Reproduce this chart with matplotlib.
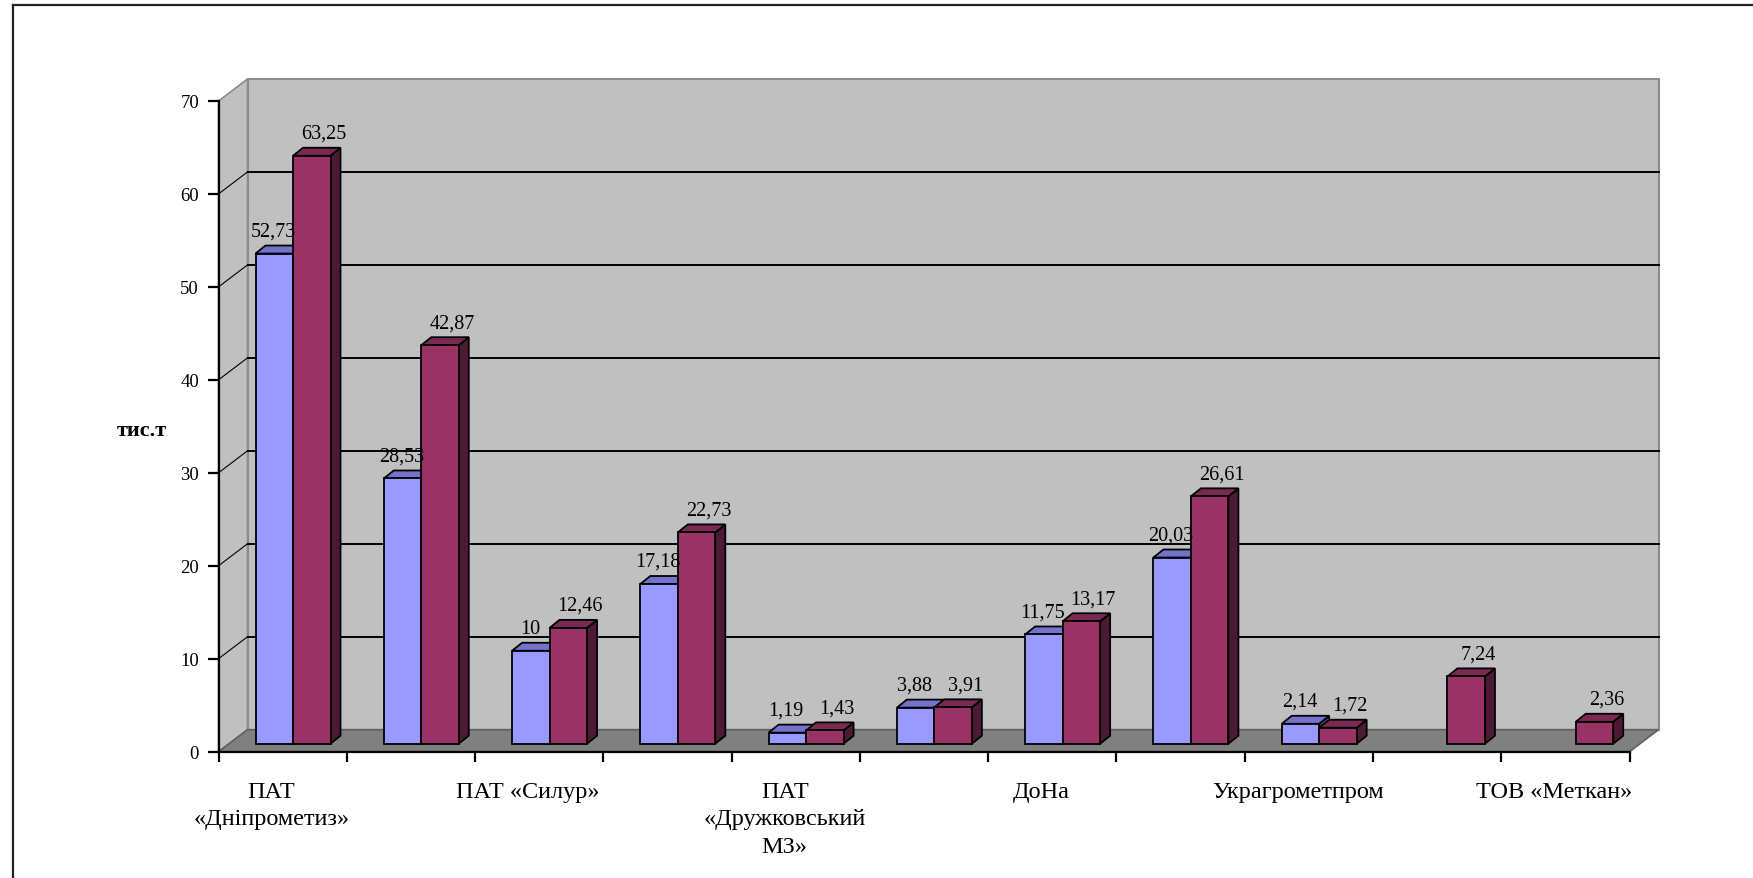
import numpy as np
import matplotlib
matplotlib.use('Agg')
import matplotlib.pyplot as plt
from matplotlib.patches import Polygon
from matplotlib.lines import Line2D

# ---------------- data ----------------
categories = ['ПАТ\n«Дніпрометиз»', '', 'ПАТ «Силур»', '', 'ПАТ\n«Дружковський\nМЗ»', '',
              'ДоНа', '', 'Украгрометпром', '', 'ТОВ «Меткан»']
series_a = [52.73, 28.53, 10, 17.18, 1.19, 3.88, 11.75, 20.03, 2.14, np.nan, np.nan]
series_b = [63.25, 42.87, 12.46, 22.73, 1.43, 3.91, 13.17, 26.61, 1.72, 7.24, 2.36]
y_ticks = [0, 10, 20, 30, 40, 50, 60, 70]
y_label = 'тис.т'

# ---------------- style ----------------
FONT = 'Liberation Serif'
COL_A = ('#9999FF', '#7373CC', '#4C4C99')   # front, top, side
COL_B = ('#993366', '#7A2952', '#4D1A33')
WALL = '#C0C0C0'
FLOOR = '#808080'

W, H = 1753, 879
fig = plt.figure(figsize=(W / 100, H / 100), dpi=100)
x0_px, x1_px = 218.5, 1629.5
y0_px, y1_px = 752.7, 102.0
ax = fig.add_axes([x0_px / W, (H - y0_px) / H, (x1_px - x0_px) / W, (y0_px - y1_px) / H])
n = len(categories)
ymax = y_ticks[-1]
ax.set_xlim(0, n)
ax.set_ylim(0, ymax)
ax.set_facecolor('none')

# pixel -> data conversions
px_x = n / (x1_px - x0_px)
px_y = ymax / (y0_px - y1_px)
DX, DY = 29 * px_x, 22 * px_y          # wall depth
BX, BY = 10 * px_x, 8 * px_y           # bar depth
BOT = 8 * px_y                          # bars stand inside the floor
OFF = 37 * px_x                         # first bar offset inside category
BW = 37.5 * px_x                        # bar width
LAB_SHIFT = -11 * px_x                  # category label shift

# walls and floor
ax.add_patch(Polygon([(DX, DY), (n + DX, DY), (n + DX, ymax + DY), (DX, ymax + DY)],
                     closed=True, fc=WALL, ec='#8C8C8C', lw=1.5, zorder=0, clip_on=False))
ax.add_patch(Polygon([(0, 0), (DX, DY), (DX, ymax + DY), (0, ymax)],
                     closed=True, fc=WALL, ec='#8C8C8C', lw=1.2, zorder=0, clip_on=False))
ax.add_patch(Polygon([(0, 0), (n, 0), (n + DX, DY), (DX, DY)],
                     closed=True, fc=FLOOR, ec='#606060', lw=1.2, zorder=0.2, clip_on=False))

# gridlines (side wall diagonal + back wall)
for v in y_ticks[1:-1]:
    ax.plot([0, DX], [v, v + DY], color='black', lw=0.8, zorder=0.5, clip_on=False)
    ax.plot([DX, n + DX], [v + DY, v + DY], color='black', lw=1.4, zorder=0.5, clip_on=False)


def fmt(v):
    return f'{v:g}'.replace('.', ',')


def draw_series(vals, shift, cols, z, lab_dx):
    x = np.arange(n) + OFF + shift
    vals = np.asarray(vals, dtype=float)
    mask = ~np.isnan(vals)
    bars = ax.bar(x[mask], vals[mask], width=BW, bottom=BOT, align='edge',
                  color=cols[0], edgecolor='black', lw=1.3, zorder=z + 0.2, clip_on=False)
    for b, v in zip(bars, vals[mask]):
        xl, xr = b.get_x(), b.get_x() + b.get_width()
        yb, yt = b.get_y(), b.get_y() + b.get_height()
        ax.add_patch(Polygon([(xr, yb), (xr + BX, yb + BY), (xr + BX, yt + BY), (xr, yt)],
                             closed=True, fc=cols[2], ec='black', lw=1.3, zorder=z, clip_on=False))
        ax.add_patch(Polygon([(xl, yt), (xr, yt), (xr + BX, yt + BY), (xl + BX, yt + BY)],
                             closed=True, fc=cols[1], ec='black', lw=1.3, zorder=z + 0.1, clip_on=False))
        ax.text((xl + xr) / 2 + BX / 2 + lab_dx, yt + BY + 5 * px_y, fmt(v),
                ha='center', va='bottom', fontsize=14.5, family=FONT, zorder=6)


draw_series(series_a, 0.0, COL_A, 2, -6 * px_x)
draw_series(series_b, BW, COL_B, 3, 7 * px_x)

# axes: spines, ticks, labels
for s in ('top', 'right'):
    ax.spines[s].set_visible(False)
for s in ('left', 'bottom'):
    ax.spines[s].set_color('black')
    ax.spines[s].set_linewidth(1.6)
    ax.spines[s].set_zorder(1)

ax.set_yticks(y_ticks)
ax.set_yticklabels([str(t) for t in y_ticks], family=FONT, fontsize=13.5)
ax.set_xticks(np.arange(n + 1))
ax.set_xticklabels([])
ax.set_xticks(np.arange(n) + 0.5 + LAB_SHIFT, minor=True)
ax.set_xticklabels(categories, minor=True, family=FONT, fontsize=17.5, linespacing=1.4)
ax.tick_params(axis='y', direction='out', length=8, width=1.6, pad=6)
ax.tick_params(axis='x', which='major', direction='out', length=7.5, width=1.6)
ax.tick_params(axis='x', which='minor', length=0, pad=21)

fig.text(142 / W, (H - 431) / H, y_label, ha='center', va='center',
         fontsize=16, fontweight='bold', family=FONT)

# outer frame (left and top edges visible)
fig.add_artist(Line2D([13 / W, 13 / W], [0, (H - 6) / H], transform=fig.transFigure,
                      color='#222222', lw=1.6))
fig.add_artist(Line2D([13 / W, 1], [(H - 6) / H, (H - 6) / H], transform=fig.transFigure,
                      color='#222222', lw=1.6))

fig.savefig('out.png', dpi=100)
